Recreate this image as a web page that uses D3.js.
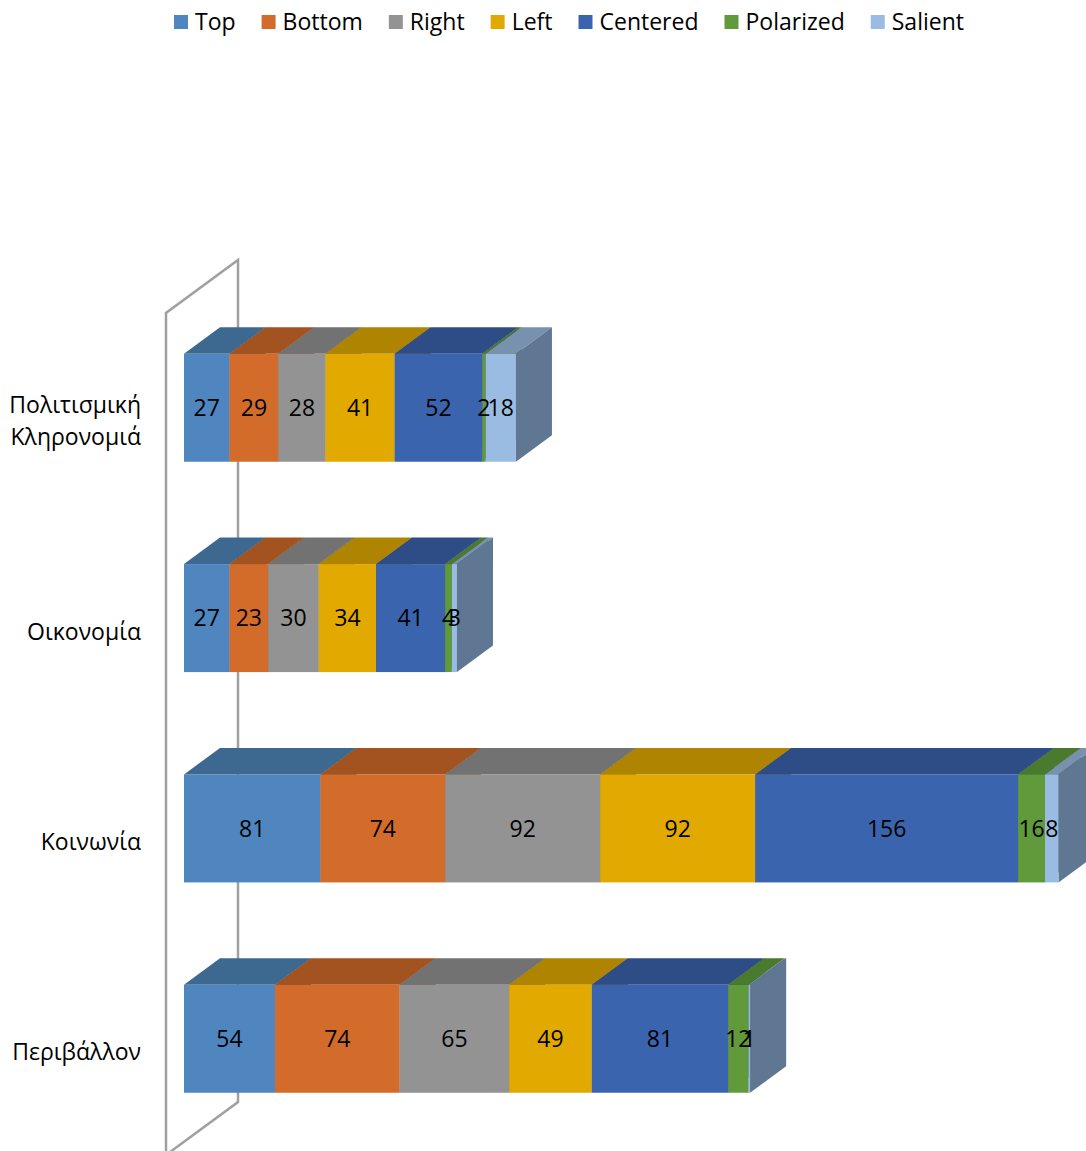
<!DOCTYPE html>
<html>
<head>
<meta charset="utf-8">
<script src="https://cdn.jsdelivr.net/npm/d3@7"></script>
<style>
  body { margin: 0; background: #fff; }
  text { font-family: "Open Sans", "Noto Sans", sans-serif; fill: #000; }
</style>
</head>
<body>
<div id="chart"></div>
<script>
// categories top to bottom
var categories = [["Πολιτισμική", "Κληρονομιά"], ["Οικονομία"], ["Κοινωνία"], ["Περιβάλλον"]];
var seriesNames = ["Top", "Bottom", "Right", "Left", "Centered", "Polarized", "Salient"];

// values per series, one per category
var topVals       = [27, 27, 81, 54];
var bottomVals    = [29, 23, 74, 74];
var rightVals     = [28, 30, 92, 65];
var leftVals      = [41, 34, 92, 49];
var centeredVals  = [52, 41, 156, 81];
var polarizedVals = [2, 4, 16, 12];
var salientVals   = [18, 3, 8, 1];

var seriesValues = [topVals, bottomVals, rightVals, leftVals, centeredVals, polarizedVals, salientVals];

// colours: front face, top face (darker), side face
var frontColors = ["#4f86bf", "#d36c2b", "#939393", "#e2aa00", "#3b64ae", "#609a3b", "#9bbce2"];
var topColors   = ["#3d6991", "#a3531f", "#727272", "#ae8400", "#2e4d86", "#4a7a2d", "#7891ae"];
var sideColors  = ["#2f5273", "#7f4118", "#5a5a5a", "#886700", "#243c69", "#3a5f23", "#5f7793"];

function init() {
    var w = 1086, h = 1151;

    var svg = d3.select("#chart").append("svg")
        .attr("width", w)
        .attr("height", h);

    // 3d depth of the wall and the bars
    var wallDx = 72, wallDy = -53;
    var barOffX = wallDx * 0.25, barOffY = wallDy * 0.25;
    var depthX = wallDx * 0.5, depthY = wallDy * 0.5;

    var catKeys = categories.map(function(c) { return c.join(" "); });

    // front plane scales
    var x = d3.scaleLinear().domain([0, 600]).range([166, 166 + 600 * 1.685]);
    var y = d3.scalePoint().domain(catKeys).range([421, 1052]);
    var barH = 108;

    var wallTop = 313, wallBottom = 1155;

    // the back wall
    var wall = svg.append("g").attr("fill", "none").attr("stroke", "#a0a0a0").attr("stroke-width", 2.5);
    wall.append("path")
        .attr("d", d3.line()([
            [x(0), wallBottom], [x(0), wallTop], [x(0) + wallDx, wallTop + wallDy],
            [x(0) + wallDx, wallBottom + wallDy], [x(0), wallBottom]
        ]));

    // bars
    var bars = svg.append("g");
    categories.forEach(function(cat, ci) {
        var key = catKeys[ci];
        var y0 = y(key) - barH / 2 + barOffY;
        var y1 = y0 + barH;
        var cum = 0;
        var g = bars.append("g");
        seriesValues.forEach(function(vals, si) {
            var v = vals[ci];
            var xa = x(cum) + barOffX, xb = x(cum + v) + barOffX;
            cum += v;
            // top face
            g.append("path")
                .attr("d", d3.line()([[xa, y0], [xa + depthX, y0 + depthY], [xb + depthX, y0 + depthY], [xb, y0]]) + "Z")
                .attr("fill", topColors[si]);
            // side face
            g.append("path")
                .attr("d", d3.line()([[xb, y0], [xb + depthX, y0 + depthY], [xb + depthX, y1 + depthY], [xb, y1]]) + "Z")
                .attr("fill", sideColors[si]);
            // front face
            g.append("rect")
                .attr("x", xa).attr("y", y0)
                .attr("width", Math.max(0, xb - xa)).attr("height", barH)
                .attr("fill", frontColors[si]);
        });
        // value labels
        cum = 0;
        seriesValues.forEach(function(vals, si) {
            var v = vals[ci];
            var xm = (x(cum) + x(cum + v)) / 2 + barOffX;
            cum += v;
            g.append("text")
                .attr("x", xm).attr("y", (y0 + y1) / 2)
                .attr("dy", "0.36em")
                .attr("text-anchor", "middle")
                .style("font-size", "23px")
                .text(v);
        });
    });

    // category labels
    var labels = svg.append("g");
    categories.forEach(function(cat, ci) {
        var t = labels.append("text")
            .attr("text-anchor", "end")
            .style("font-size", "23px");
        var lineH = 32;
        var start = y(catKeys[ci]) - (cat.length - 1) * lineH / 2;
        cat.forEach(function(line, li) {
            t.append("tspan")
                .attr("x", 141)
                .attr("y", start + li * lineH)
                .attr("dy", "0.36em")
                .text(line);
        });
    });

    // legend
    var legend = svg.append("g");
    var lx = 0;
    seriesNames.forEach(function(name, si) {
        var item = legend.append("g").attr("transform", "translate(" + lx + ",0)");
        item.append("rect")
            .attr("x", 0).attr("y", 15)
            .attr("width", 14).attr("height", 14)
            .attr("fill", frontColors[si]);
        var t = item.append("text")
            .attr("x", 21).attr("y", 22)
            .attr("dy", "0.36em")
            .style("font-size", "23px")
            .text(name);
        lx += 21 + t.node().getComputedTextLength() + 26;
    });
    var legendW = lx - 26;
    legend.attr("transform", "translate(" + (569 - legendW / 2) + ",0)");
}

window.onload = init;
</script>
</body>
</html>
